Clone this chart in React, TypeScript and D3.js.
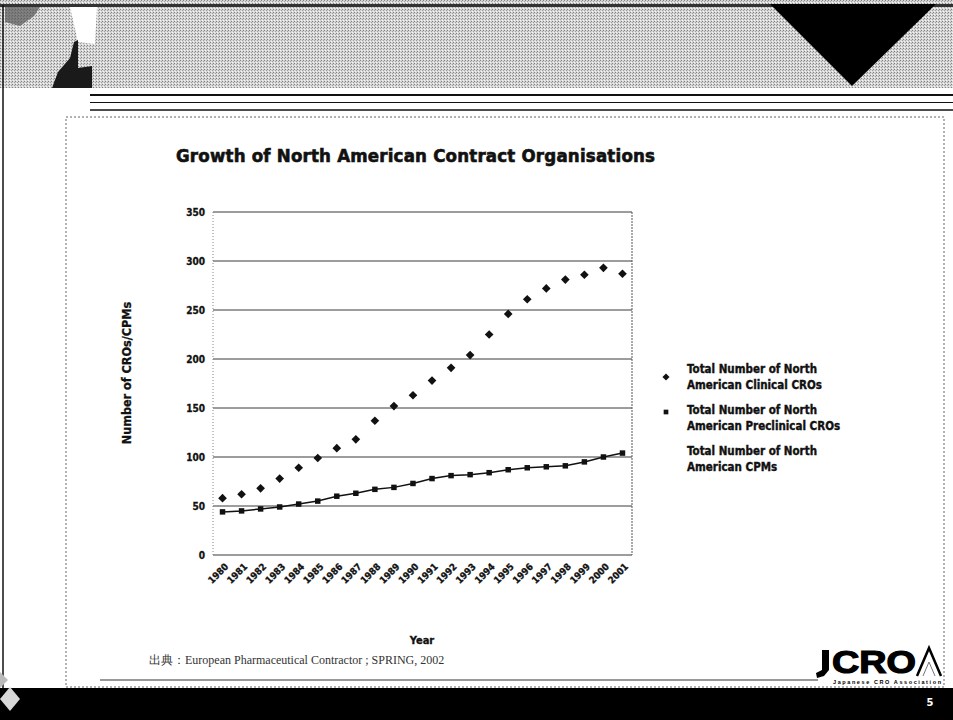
import React from 'react';
import * as d3 from 'd3';

const years = ['1980','1981','1982','1983','1984','1985','1986','1987','1988','1989','1990','1991','1992','1993','1994','1995','1996','1997','1998','1999','2000','2001'];
const clinicalCROs = [58, 62, 68, 78, 89, 99, 109, 118, 137, 152, 163, 178, 191, 204, 225, 246, 261, 272, 281, 286, 293, 287];
const preclinicalCROs = [44, 45, 47, 49, 52, 55, 60, 63, 67, 69, 73, 78, 81, 82, 84, 87, 89, 90, 91, 95, 100, 104];
const yTicks = [0, 50, 100, 150, 200, 250, 300, 350];
const legendItems = [
  ['Total Number of North', 'American Clinical CROs'],
  ['Total Number of North', 'American Preclinical CROs'],
  ['Total Number of North', 'American CPMs'],
];

const W = 953;
const H = 720;
const plot = { left: 213, right: 632, top: 212, bottom: 555 };
const cond = '"DejaVu Sans Condensed", "DejaVu Sans", sans-serif';

const App = () => {
  const x = d3.scaleBand<string>().domain(years).range([plot.left, plot.right]);
  const y = d3.scaleLinear().domain([0, 350]).range([plot.bottom, plot.top]);
  const cx = (d: string) => (x(d) as number) + x.bandwidth() / 2;

  const line = d3.line<number>()
    .x((_, i) => cx(years[i]))
    .y(d => y(d));

  const diamondType = (d3 as any).symbolDiamond2 || d3.symbolDiamond;
  const diamond = d3.symbol().type(diamondType).size(48)() as string;
  const square = d3.symbol().type(d3.symbolSquare).size(30)() as string;

  return (
    <svg width={W} height={H} style={{ position: 'absolute', left: 0, top: 0, background: '#fff' }}>
      <defs>
        <pattern id="dither" width="3" height="3" patternUnits="userSpaceOnUse">
          <rect width="3" height="3" fill="#d6d6d6" />
          <rect x="0" y="0" width="1" height="1" fill="#808080" />
          <rect x="2" y="1" width="1" height="1" fill="#a0a0a0" />
          <rect x="1" y="2" width="1" height="1" fill="#f4f4f4" />
        </pattern>
      </defs>

      {/* header banner */}
      <rect x={0} y={0} width={W} height={88} fill="url(#dither)" />
      <rect x={0} y={4} width={W} height={3} fill="#333" />
      <path d="M5,7 L40,7 L34,16 L20,26 L5,22 Z" fill="#555" opacity={0.7} />
      <path d="M70,7 L97,7 L95,44 L78,42 Z" fill="#fff" />
      <path d="M52,88 L58,72 L70,58 L74,42 L78,40 L78,68 L92,66 L92,88 Z" fill="#1a1a1a" />
      <path d="M770,4 L936,4 L852,86 Z" fill="#000" />
      <line x1={3} x2={3} y1={5} y2={688} stroke="#111" strokeWidth={1.5} />

      {/* rules under banner */}
      <line x1={90} x2={W} y1={95} y2={95} stroke="#111" strokeWidth={2} />
      <line x1={90} x2={W} y1={102.5} y2={102.5} stroke="#111" strokeWidth={1.2} />
      <line x1={90} x2={W} y1={110} y2={110} stroke="#111" strokeWidth={1.5} />

      {/* slide frame */}
      <rect x={66} y={117} width={878} height={570} fill="none" stroke="#666" strokeWidth={1} strokeDasharray="2 2" />

      {/* title */}
      <text x={176} y={162} fontFamily={cond} fontWeight="bold" fontSize={18.5} fill="#111" stroke="#111" strokeWidth={0.6} textLength={479}>
        Growth of North American Contract Organisations
      </text>

      {/* grid */}
      {yTicks.map(t => (
        <g key={t}>
          <line x1={plot.left} x2={plot.right} y1={y(t)} y2={y(t)} stroke="#3a3a3a" strokeWidth={1} />
          <text x={205} y={y(t)} dy="0.35em" textAnchor="end" fontFamily={cond} fontWeight="bold" fontSize={10} fill="#111" stroke="#111" strokeWidth={0.3}>{t}</text>
        </g>
      ))}
      <line x1={plot.left} x2={plot.left} y1={plot.top} y2={plot.bottom} stroke="#888" strokeWidth={1} strokeDasharray="1 2" />
      <line x1={plot.right} x2={plot.right} y1={plot.top} y2={plot.bottom} stroke="#555" strokeWidth={1} strokeDasharray="2 1" />

      {/* x labels */}
      {years.map(yr => (
        <text key={yr} transform={`translate(${cx(yr) + 4},${plot.bottom + 10}) rotate(-45)`} textAnchor="end" dy="0.35em"
          fontFamily={cond} fontWeight="bold" fontSize={9.5} fill="#111" stroke="#111" strokeWidth={0.3}>{yr}</text>
      ))}

      {/* axis titles */}
      <text transform={`translate(131,373) rotate(-90)`} textAnchor="middle"
        fontFamily={cond} fontWeight="bold" fontSize={12.5} fill="#111" stroke="#111" strokeWidth={0.3}>Number of CROs/CPMs</text>
      <text x={422} y={644} textAnchor="middle" fontFamily={cond} fontWeight="bold" fontSize={11} fill="#111" stroke="#111" strokeWidth={0.3}>Year</text>

      {/* preclinical series */}
      <path d={line(preclinicalCROs) as string} fill="none" stroke="#111" strokeWidth={1.5} />
      {preclinicalCROs.map((v, i) => (
        <path key={i} d={square} transform={`translate(${cx(years[i])},${y(v)})`} fill="#111" />
      ))}

      {/* clinical series */}
      {clinicalCROs.map((v, i) => (
        <path key={i} d={diamond} transform={`translate(${cx(years[i])},${y(v)})`} fill="#111" />
      ))}

      {/* legend */}
      {legendItems.map((lines, i) => {
        const ly = 369 + i * 41;
        return (
          <g key={i}>
            {i === 0 && <path d={d3.symbol().type(diamondType).size(32)() as string} transform={`translate(666,${ly + 8})`} fill="#111" />}
            {i === 1 && <path d={d3.symbol().type(d3.symbolSquare).size(22)() as string} transform={`translate(666,${ly + 2})`} fill="#111" />}
            {lines.map((t, j) => (
              <text key={j} x={687} y={ly + j * 16} dy="0.35em" fontFamily={cond} fontWeight="bold" fontSize={11.5} fill="#111" stroke="#111" strokeWidth={0.35}>{t}</text>
            ))}
          </g>
        );
      })}

      {/* source */}
      <text x={149} y={664} fontFamily='"Liberation Serif", serif' fontSize={12} fill="#333">
        出典：European Pharmaceutical Contractor ; SPRING, 2002
      </text>
      <line x1={100} x2={818} y1={680} y2={680} stroke="#333" strokeWidth={1.2} />

      {/* logo */}
      <path d="M822,650 L829,650 L829,670 L824,676 L817,678 L816,673 L822,670 Z" fill="#000" />
      <text x={832} y={673} fontFamily='"Liberation Sans", sans-serif' fontWeight="bold" fontSize={31} fill="#000"
        stroke="#000" strokeWidth={1.2} textLength={84} lengthAdjust="spacingAndGlyphs">CRO</text>
      <path d="M917,676 L929,648 L941,676" fill="none" stroke="#000" strokeWidth={2.5} />
      <path d="M923,676 L929,662 L935,676" fill="none" stroke="#777" strokeWidth={1} />
      <text x={833} y={683.5} fontFamily='"Liberation Sans", sans-serif' fontSize={5.5} fontWeight="bold" fill="#000" textLength={108}>Japanese CRO Association</text>

      {/* footer bar */}
      <rect x={0} y={688} width={W} height={32} fill="#000" />
      <path d="M10,687 L20,699 L10,711 L0,699 Z" fill="#d8d8d8" />
      <path d="M0,672 L8,680 L0,688 Z" fill="#bbb" />
      <text x={930} y={706} textAnchor="middle" fontFamily={cond} fontWeight="bold" fontSize={11} fill="#fff">5</text>
    </svg>
  );
};

export default App;
